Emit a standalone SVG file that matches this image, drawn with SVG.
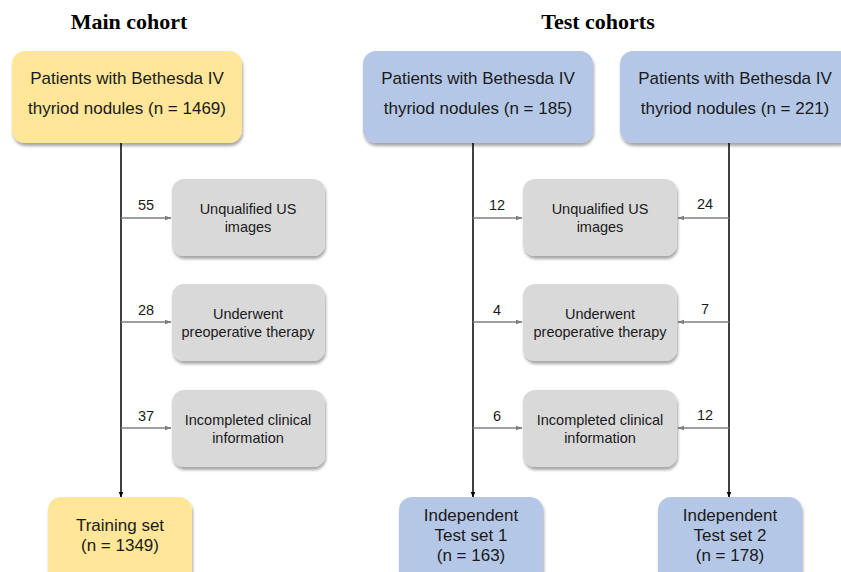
<svg xmlns="http://www.w3.org/2000/svg" width="841" height="572" viewBox="0 0 841 572">
<defs>
<filter id="sh" x="-10%" y="-10%" width="130%" height="140%">
<feDropShadow dx="1" dy="3" stdDeviation="1.5" flood-color="#000" flood-opacity="0.35"/>
</filter>
<marker id="ab" viewBox="0 0 10 10" refX="9" refY="5" markerWidth="6" markerHeight="6" orient="auto" markerUnits="userSpaceOnUse">
<path d="M0,1 L10,5 L0,9 Z" fill="#000"/>
</marker>
<marker id="ag" viewBox="0 0 10 10" refX="9" refY="5" markerWidth="7" markerHeight="7" orient="auto" markerUnits="userSpaceOnUse">
<path d="M0,1.5 L10,5 L0,8.5 Z" fill="#7f7f7f"/>
</marker>
</defs>
<style>
.title{font-family:"Liberation Serif","Times New Roman",serif;font-weight:bold;font-size:22px;fill:#000;text-anchor:middle}
.t{font-family:"Liberation Sans",Arial,sans-serif;fill:#1a1a1a;text-anchor:middle}
.big{font-size:17px}
.sm{font-size:14.5px}
.yel{fill:#FFE699}
.blu{fill:#B4C7E7}
.gry{fill:#D9D9D9}
.v{stroke:#000;stroke-width:1.5;fill:none}
.h{stroke:#7f7f7f;stroke-width:1.3;fill:none}
</style>
<rect width="841" height="572" fill="#fff"/>
<text class="title" x="129" y="29">Main cohort</text>
<text class="title" x="598" y="29">Test cohorts</text>

<g id="connectors">
<line class="v" x1="121" y1="143" x2="121" y2="497" marker-end="url(#ab)"/>
<line class="v" x1="473" y1="143" x2="473" y2="497" marker-end="url(#ab)"/>
<line class="v" x1="729" y1="143" x2="729" y2="497" marker-end="url(#ab)"/>
<line class="h" x1="121" y1="218" x2="171" y2="218" marker-end="url(#ag)"/>
<line class="h" x1="121" y1="322" x2="171" y2="322" marker-end="url(#ag)"/>
<line class="h" x1="121" y1="428" x2="171" y2="428" marker-end="url(#ag)"/>
<line class="h" x1="473" y1="218" x2="522" y2="218" marker-end="url(#ag)"/>
<line class="h" x1="473" y1="322" x2="522" y2="322" marker-end="url(#ag)"/>
<line class="h" x1="473" y1="428" x2="522" y2="428" marker-end="url(#ag)"/>
<line class="h" x1="729" y1="218" x2="678" y2="218" marker-end="url(#ag)"/>
<line class="h" x1="729" y1="322" x2="678" y2="322" marker-end="url(#ag)"/>
<line class="h" x1="729" y1="428" x2="678" y2="428" marker-end="url(#ag)"/>
<text class="t sm" x="146" y="210">55</text>
<text class="t sm" x="146" y="315">28</text>
<text class="t sm" x="146" y="421">37</text>
<text class="t sm" x="497" y="210">12</text>
<text class="t sm" x="497" y="315">4</text>
<text class="t sm" x="497" y="421">6</text>
<text class="t sm" x="705" y="209">24</text>
<text class="t sm" x="705" y="314">7</text>
<text class="t sm" x="705" y="420">12</text>
</g>

<g id="main-start">
<rect class="yel" x="12" y="51" width="230" height="92" rx="13" filter="url(#sh)"/>
<text class="t big" x="127" y="84">Patients with Bethesda IV</text>
<text class="t big" x="127" y="114">thyriod nodules (n = 1469)</text>
</g>
<g id="test1-start">
<rect class="blu" x="363" y="51" width="230" height="92" rx="13" filter="url(#sh)"/>
<text class="t big" x="478" y="84">Patients with Bethesda IV</text>
<text class="t big" x="478" y="114">thyriod nodules (n = 185)</text>
</g>
<g id="test2-start">
<rect class="blu" x="620" y="51" width="232" height="92" rx="13" filter="url(#sh)"/>
<text class="t big" x="735" y="84">Patients with Bethesda IV</text>
<text class="t big" x="735" y="114">thyriod nodules (n = 221)</text>
</g>

<g id="main-ex1">
<rect class="gry" x="172" y="179" width="153" height="77" rx="12" filter="url(#sh)"/>
<text class="t sm" x="248" y="214">Unqualified US</text>
<text class="t sm" x="248" y="232">images</text>
</g>
<g id="main-ex2">
<rect class="gry" x="172" y="284" width="153" height="77" rx="12" filter="url(#sh)"/>
<text class="t sm" x="248" y="319">Underwent</text>
<text class="t sm" x="248" y="337">preoperative therapy</text>
</g>
<g id="main-ex3">
<rect class="gry" x="172" y="390" width="153" height="77" rx="12" filter="url(#sh)"/>
<text class="t sm" x="248" y="425">Incompleted clinical</text>
<text class="t sm" x="248" y="443">information</text>
</g>
<g id="test-ex1">
<rect class="gry" x="523" y="179" width="154" height="77" rx="12" filter="url(#sh)"/>
<text class="t sm" x="600" y="214">Unqualified US</text>
<text class="t sm" x="600" y="232">images</text>
</g>
<g id="test-ex2">
<rect class="gry" x="523" y="284" width="154" height="77" rx="12" filter="url(#sh)"/>
<text class="t sm" x="600" y="319">Underwent</text>
<text class="t sm" x="600" y="337">preoperative therapy</text>
</g>
<g id="test-ex3">
<rect class="gry" x="523" y="390" width="154" height="77" rx="12" filter="url(#sh)"/>
<text class="t sm" x="600" y="425">Incompleted clinical</text>
<text class="t sm" x="600" y="443">information</text>
</g>

<g id="training">
<rect class="yel" x="48" y="497" width="144" height="90" rx="13" filter="url(#sh)"/>
<text class="t big" x="120" y="531">Training set</text>
<text class="t big" x="120" y="551">(n = 1349)</text>
</g>
<g id="testset1">
<rect class="blu" x="399" y="497" width="144" height="90" rx="13" filter="url(#sh)"/>
<text class="t big" x="471" y="521">Independent</text>
<text class="t big" x="471" y="541">Test set 1</text>
<text class="t big" x="471" y="561">(n = 163)</text>
</g>
<g id="testset2">
<rect class="blu" x="658" y="497" width="144" height="90" rx="13" filter="url(#sh)"/>
<text class="t big" x="730" y="521">Independent</text>
<text class="t big" x="730" y="541">Test set 2</text>
<text class="t big" x="730" y="561">(n = 178)</text>
</g>
</svg>
